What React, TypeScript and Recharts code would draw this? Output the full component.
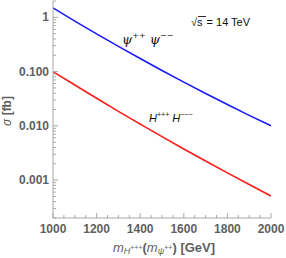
import React from "react";
import { LineChart, Line, XAxis, YAxis } from "recharts";

const masses = [1000, 1100, 1200, 1300, 1400, 1500, 1600, 1700, 1800, 1900, 2000];
const psiSigma = [1.49, 0.853, 0.496, 0.292, 0.174, 0.105, 0.064, 0.0395, 0.0247, 0.0156, 0.01];
const hSigma = [0.1, 0.0565, 0.0322, 0.0185, 0.0108, 0.00633, 0.00375, 0.00225, 0.00136, 0.00083, 0.00051];

const xMajor = [1000, 1200, 1400, 1600, 1800, 2000];
const xTicks = [1000, 1050, 1100, 1150, 1200, 1250, 1300, 1350, 1400, 1450, 1500, 1550, 1600, 1650, 1700, 1750, 1800, 1850, 1900, 1950, 2000];
const yMajor = [0.001, 0.01, 0.1, 1];
const yLabels = ["0.001", "0.010", "0.100", "1"];
const yTicks = [
  0.0002, 0.0003, 0.0004, 0.0005, 0.0006, 0.0007, 0.0008, 0.0009,
  0.001, 0.002, 0.003, 0.004, 0.005, 0.006, 0.007, 0.008, 0.009,
  0.01, 0.02, 0.03, 0.04, 0.05, 0.06, 0.07, 0.08, 0.09,
  0.1, 0.2, 0.3, 0.4, 0.5, 0.6, 0.7, 0.8, 0.9,
  1, 2,
];

const data = masses.map((m, i) => ({ m, psi: psiSigma[i], h: hSigma[i] }));

const frame = "#a8a8a8";
const labelColor = "#5f5f5f";
const font = "'Liberation Sans', Arial, sans-serif";

const isMajorY = (v: number) => yMajor.some((t) => Math.abs(t - v) / t < 1e-6);

function BottomTick({ x, y, payload, showLabel }: any) {
  const major = xMajor.includes(payload.value);
  const len = major ? 5 : 3;
  const dir = showLabel ? -1 : 1;
  return (
    <g>
      <line x1={x} x2={x} y1={y} y2={y + dir * len} stroke={frame} strokeWidth={1} />
      {showLabel && major && (
        <text x={x} y={y + 15} textAnchor="middle" fill={labelColor} fontSize={12} fontWeight="bold" fontFamily={font}>
          {payload.value}
        </text>
      )}
    </g>
  );
}

function SideTick({ x, y, payload, showLabel }: any) {
  const major = isMajorY(payload.value);
  const len = major ? 5 : 3;
  const dir = showLabel ? 1 : -1;
  const idx = yMajor.findIndex((t) => Math.abs(t - payload.value) / t < 1e-6);
  return (
    <g>
      <line x1={x} x2={x + dir * len} y1={y} y2={y} stroke={frame} strokeWidth={1} />
      {showLabel && major && (
        <text x={x - 4} y={y + 4} textAnchor="end" fill={labelColor} fontSize={12} fontWeight="bold" fontFamily={font}>
          {yLabels[idx]}
        </text>
      )}
    </g>
  );
}

export default function App() {
  return (
    <div style={{ position: "absolute", left: 0, top: 0, width: 286, height: 258, background: "#fff" }}>
      <LineChart width={286} height={258} data={data} margin={{ top: 1, right: 15, bottom: 0, left: 0 }}>
        <XAxis
          dataKey="m"
          type="number"
          domain={[1000, 2000]}
          ticks={xTicks}
          interval={0}
          height={40}
          tickSize={0}
          tickMargin={0}
          axisLine={{ stroke: frame }}
          tick={(p: any) => <BottomTick {...p} showLabel />}
          allowDataOverflow
        />
        <XAxis
          xAxisId="top"
          orientation="top"
          dataKey="m"
          type="number"
          domain={[1000, 2000]}
          ticks={xTicks}
          interval={0}
          height={0}
          tickSize={0}
          tickMargin={0}
          axisLine={{ stroke: frame }}
          tick={(p: any) => <BottomTick {...p} showLabel={false} />}
          allowDataOverflow
        />
        <YAxis
          scale="log"
          type="number"
          domain={[0.0002, 2]}
          ticks={yTicks}
          interval={0}
          width={53}
          tickSize={0}
          tickMargin={0}
          axisLine={{ stroke: frame }}
          tick={(p: any) => <SideTick {...p} showLabel />}
          allowDataOverflow
        />
        <YAxis
          yAxisId="right"
          orientation="right"
          scale="log"
          type="number"
          domain={[0.0002, 2]}
          ticks={yTicks}
          interval={0}
          width={0}
          tickSize={0}
          tickMargin={0}
          axisLine={{ stroke: frame }}
          tick={(p: any) => <SideTick {...p} showLabel={false} />}
          allowDataOverflow
        />
        <Line dataKey="psi" type="monotone" stroke="#1a1aff" strokeWidth={1.6} dot={false} isAnimationActive={false} />
        <Line dataKey="h" type="monotone" stroke="#ff1a1a" strokeWidth={1.6} dot={false} isAnimationActive={false} />
      </LineChart>
      <svg width={286} height={258} style={{ position: "absolute", left: 0, top: 0, pointerEvents: "none" }}>
        <text
          transform="translate(11,111) rotate(-90)"
          textAnchor="middle"
          fill={labelColor}
          fontSize={12}
          fontWeight="bold"
          fontFamily={font}
        >
          <tspan fontStyle="italic" fontWeight="normal">σ</tspan> [fb]
        </text>
        <text x={164} y={252} textAnchor="middle" fill={labelColor} fontSize={13} fontWeight="bold" fontFamily={font}>
          <tspan fontStyle="italic" fontWeight="normal">m</tspan>
          <tspan fontStyle="italic" fontWeight="normal" fontSize={9} dy={2}>H</tspan>
          <tspan fontSize={7} fontWeight="normal" dy={-4}>+++</tspan>
          <tspan dy={2}>(</tspan>
          <tspan fontStyle="italic" fontWeight="normal">m</tspan>
          <tspan fontStyle="italic" fontWeight="normal" fontSize={9} dy={2}>ψ</tspan>
          <tspan fontSize={7} fontWeight="normal" dy={-4}>++</tspan>
          <tspan dy={2}>)</tspan>
          <tspan> [GeV]</tspan>
        </text>
        <text x={122} y={44} fill="#111" fontSize={13} fontFamily="'DejaVu Serif', serif" fontStyle="italic">
          ψ<tspan fontSize={8} dy={-6}>++</tspan>
          <tspan dy={6}> ψ</tspan>
          <tspan fontSize={8} dy={-6}>−−</tspan>
        </text>
        <text x={149} y={122} fill="#111" fontSize={11} fontFamily={font} fontStyle="italic">
          H<tspan fontSize={7} dy={-5}>+++</tspan>
          <tspan dy={5}> H</tspan>
          <tspan fontSize={7} dy={-5}>−−−</tspan>
        </text>
        <text x={191} y={26} fill="#111" fontSize={11} fontFamily={font}>
          √s<tspan dx={4}>= 14 TeV</tspan>
        </text>
        <line x1={198} x2={206} y1={16.5} y2={16.5} stroke="#111" strokeWidth={0.9} />
      </svg>
    </div>
  );
}
